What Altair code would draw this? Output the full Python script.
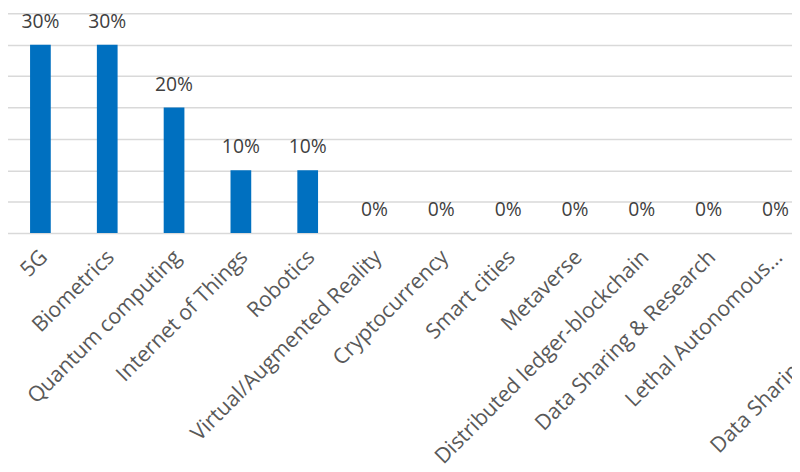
import altair as alt
import pandas as pd

categories = [
    "5G",
    "Biometrics",
    "Quantum computing",
    "Internet of Things",
    "Robotics",
    "Virtual/Augmented Reality",
    "Cryptocurrency",
    "Smart cities",
    "Metaverse",
    "Distributed ledger-blockchain",
    "Data Sharing & Research",
    "Lethal Autonomous...",
    "Data Sharing Tools",
]
shares = [0.30, 0.30, 0.20, 0.10, 0.10, 0, 0, 0, 0, 0, 0, 0, 0]
grid_values = [0, 0.05, 0.10, 0.15, 0.20, 0.25, 0.30, 0.35]

df = pd.DataFrame({"category": categories, "share": shares})

last = categories[-1]

x = alt.X(
    "category:N",
    sort=categories,
    title=None,
    scale=alt.Scale(range=[-1, 876.5], paddingInner=0.69, paddingOuter=0.345),
    axis=alt.Axis(
        labelAngle=-45,
        labelAlign="right",
        labelBaseline="middle",
        labelFont="Open Sans",
        labelFontSize=21.5,
        labelColor="#595959",
        labelOffset=4,
        ticks=False,
        domain=False,
        grid=False,
        labelOverlap=False,
        labelLimit=500,
        labelPadding={"condition": {"test": f"datum.value == '{last}'", "value": 86}, "value": 21},
    ),
)
y = alt.Y(
    "share:Q",
    scale=alt.Scale(domain=[0, 0.35], nice=False, zero=True),
    axis=alt.Axis(
        values=grid_values,
        grid=True,
        gridColor="#D9D9D9",
        gridWidth=1.5,
        labels=False,
        ticks=False,
        domain=False,
        title=None,
    ),
)

bars = alt.Chart(df).mark_bar(color="#0070C0").encode(x=x, y=y)
texts = alt.Chart(df).mark_text(
    dy=-17, baseline="alphabetic", font="Open Sans", fontSize=19.5, color="#404040"
).encode(x=x, y=y, text=alt.Text("share:Q", format=".0%"))

chart = (
    alt.layer(bars, texts)
    .properties(
        width=792,
        height=222,
        padding={"left": 0, "top": 3, "right": 0, "bottom": 239},
        autosize=alt.AutoSizeParams(type="none"),
        background="white",
    )
    .configure_view(stroke=None)
)

chart.save("out.html", embed_options={"renderer": "svg", "actions": False})
